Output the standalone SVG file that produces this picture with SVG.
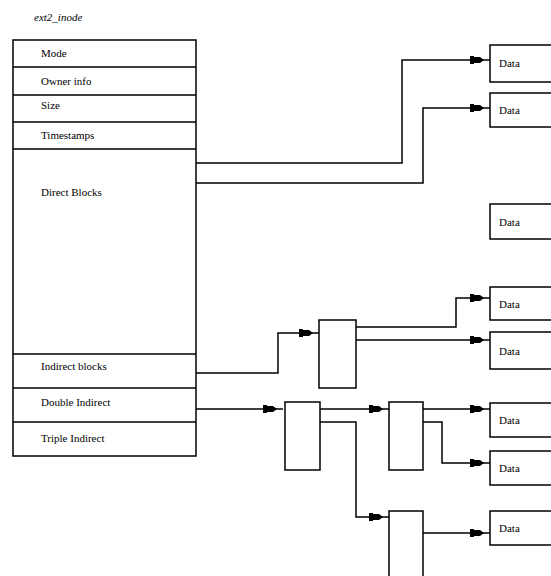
<svg xmlns="http://www.w3.org/2000/svg" width="551" height="576" viewBox="0 0 551 576">
<style>
.box{fill:#fff;stroke:#000;stroke-width:1.5}
.ln{fill:none;stroke:#000;stroke-width:1.5}
.wire{fill:none;stroke:#000;stroke-width:1.5;marker-end:url(#arr)}
.t{font-family:"Liberation Serif",serif;font-size:11px;fill:#000}
.ti{font-family:"Liberation Serif",serif;font-size:11px;font-style:italic;fill:#000}
</style>
<defs>
<marker id="arr" markerUnits="userSpaceOnUse" markerWidth="24" markerHeight="12" viewBox="0 -6 24 12" refX="20" refY="0" orient="auto" overflow="visible">
<path d="M0,-4 L4,-4 L4,-3 L10,-3 L14,0 L10,3 L4,3 L4,4 L0,4 Z" fill="#000"/>
</marker>
</defs>
<text class="ti" x="34" y="21">ext2_inode</text>
<g id="inode">
<rect class="box" x="13" y="40" width="183" height="416"/>
<path class="ln" d="M13,67H196M13,95H196M13,122H196M13,149H196M13,354H196M13,388H196M13,422H196"/>
<text class="t" x="41" y="57">Mode</text>
<text class="t" x="41" y="85">Owner info</text>
<text class="t" x="41" y="109">Size</text>
<text class="t" x="41" y="139">Timestamps</text>
<text class="t" x="41" y="196">Direct Blocks</text>
<text class="t" x="41" y="370">Indirect blocks</text>
<text class="t" x="41" y="406">Double Indirect</text>
<text class="t" x="41" y="442">Triple Indirect</text>
</g>
<g id="data1"><rect class="box" x="490" y="45" width="80" height="37"/><text class="t" x="499" y="67">Data</text></g>
<g id="data2"><rect class="box" x="490" y="93" width="80" height="34"/><text class="t" x="499" y="114">Data</text></g>
<g id="data3"><rect class="box" x="490" y="204" width="80" height="35"/><text class="t" x="499" y="226">Data</text></g>
<g id="data4"><rect class="box" x="490" y="287" width="80" height="33"/><text class="t" x="499" y="308">Data</text></g>
<g id="data5"><rect class="box" x="490" y="332" width="80" height="37"/><text class="t" x="499" y="355">Data</text></g>
<g id="data6"><rect class="box" x="490" y="403" width="80" height="34"/><text class="t" x="499" y="424">Data</text></g>
<g id="data7"><rect class="box" x="490" y="451" width="80" height="34"/><text class="t" x="499" y="472">Data</text></g>
<g id="data8"><rect class="box" x="490" y="511" width="80" height="34"/><text class="t" x="499" y="532">Data</text></g>
<g id="ind1"><rect class="box" x="319" y="320" width="37" height="68"/></g>
<g id="dind1"><rect class="box" x="285" y="402" width="35" height="68"/></g>
<g id="dind2"><rect class="box" x="389" y="402" width="34" height="68"/></g>
<g id="dind3"><rect class="box" x="389" y="511" width="34" height="80"/></g>
<g id="connectors">
<path class="wire" d="M196,163H402V60H490"/>
<path class="wire" d="M196,183H423V108H490"/>
<path class="wire" d="M196,373H278V333H319"/>
<path class="wire" d="M356,327H456V298H490"/>
<path class="wire" d="M356,340H490"/>
<path class="wire" d="M196,409H283"/>
<path class="wire" d="M320,409H389"/>
<path class="wire" d="M320,422H356V517H389"/>
<path class="wire" d="M423,409H490"/>
<path class="wire" d="M423,422H442V463H490"/>
<path class="wire" d="M423,533H490"/>
</g>
</svg>
